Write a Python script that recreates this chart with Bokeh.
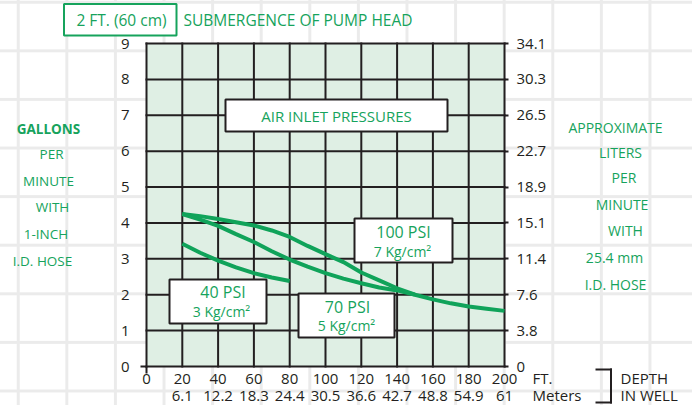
from bokeh.plotting import figure
from bokeh.models import FixedTicker, LinearAxis, Label, BoxAnnotation, Range1d
from bokeh.embed import file_html
from bokeh.resources import INLINE

# ---------------- data ----------------
depth_ticks_ft = [0, 20, 40, 60, 80, 100, 120, 140, 160, 180, 200]
depth_ticks_m = [20, 40, 60, 80, 100, 120, 140, 160, 180, 200]
depth_labels_m = ["6.1", "12.2", "18.3", "24.4", "30.5", "36.6", "42.7", "48.8", "54.9", "61"]
gpm_ticks = [0, 1, 2, 3, 4, 5, 6, 7, 8, 9]
lpm_labels = ["0", "3.8", "7.6", "11.4", "15.1", "18.9", "22.7", "26.5", "30.3", "34.1"]

depth_100 = [20, 30, 40, 50, 60, 70, 80, 90, 100, 110, 120, 130, 140, 150, 160, 170, 180, 190, 200]
gpm_100 = [4.25, 4.19, 4.11, 4.02, 3.93, 3.79, 3.61, 3.36, 3.13, 2.91, 2.62, 2.40, 2.18, 2.00,
           1.87, 1.76, 1.67, 1.61, 1.55]
depth_70 = [20, 30, 40, 50, 60, 70, 80, 90, 100, 110, 120, 130, 140, 150]
gpm_70 = [4.25, 4.09, 3.92, 3.69, 3.47, 3.21, 2.98, 2.78, 2.60, 2.45, 2.32, 2.20, 2.12, 2.00]
depth_40 = [20, 30, 40, 50, 60, 70, 80]
gpm_40 = [3.42, 3.17, 2.95, 2.76, 2.60, 2.48, 2.38]

# ---------------- style ----------------
FONT = "Open Sans"
DARK = "#231f20"
GREEN = "#10a35a"
TXT_GREEN = "#16a35c"
FILL = "#dfefe4"

W, H = 692, 405
# pixel box of the plotting area
L, T, R, B = 146, 43, 504, 366
X0, X1 = depth_ticks_ft[0], depth_ticks_ft[-1]
Y0, Y1 = gpm_ticks[0], gpm_ticks[-1]
SX = (R - L) / (X1 - X0)
SY = (B - T) / (Y1 - Y0)


def dx(px):
    return X0 + (px - L) / SX


def dy(py):
    return Y0 + (B - py) / SY


p = figure(width=W, height=H, min_border=0,
           x_range=Range1d(dx(0), dx(W)), y_range=Range1d(dy(H), dy(0)),
           x_axis_location=None, y_axis_location=None,
           output_backend="svg", toolbar_location=None)

p.styles = {
    "background-color": "white",
    "background-image": "linear-gradient(to right, #ebebeb 2.5px, transparent 2.5px), "
                        "linear-gradient(to bottom, #ebebeb 2.5px, transparent 2.5px)",
    "background-size": "48.6px 48.6px",
    "background-position": "16.75px 0.75px",
}
p.border_fill_alpha = 0
p.background_fill_alpha = 0
p.outline_line_color = None
p.xgrid.visible = False
p.ygrid.visible = False

# plotting area fill + grid
p.quad(left=[X0], right=[X1], bottom=[Y0], top=[Y1], fill_color=FILL, line_color=None)
p.segment(x0=depth_ticks_ft, x1=depth_ticks_ft,
          y0=[Y0] * len(depth_ticks_ft), y1=[Y1] * len(depth_ticks_ft),
          line_color=DARK, line_width=2, line_cap="square")
p.segment(x0=[X0] * len(gpm_ticks), x1=[X1] * len(gpm_ticks),
          y0=gpm_ticks, y1=gpm_ticks,
          line_color=DARK, line_width=2, line_cap="square")


def style_axis(ax, standoff):
    ax.axis_line_color = None
    ax.major_tick_line_color = None
    ax.minor_tick_line_color = None
    ax.major_label_standoff = standoff
    ax.major_label_text_font = FONT
    ax.major_label_text_font_size = "15px"
    ax.major_label_text_color = DARK


# bottom axes: feet and meters
ax_ft = LinearAxis(ticker=FixedTicker(ticks=depth_ticks_ft), fixed_location=Y0)
style_axis(ax_ft, 1)
p.add_layout(ax_ft, "below")

ax_m = LinearAxis(ticker=FixedTicker(ticks=depth_ticks_m), fixed_location=Y0,
                  major_label_overrides={t: s for t, s in zip(depth_ticks_m, depth_labels_m)})
style_axis(ax_m, 18)
p.add_layout(ax_m, "below")

# origin tick + short axis extension
ax_0 = LinearAxis(ticker=FixedTicker(ticks=[X0]), fixed_location=Y0, bounds=(dx(140), X0),
                  major_label_overrides={X0: ""})
ax_0.axis_line_color = DARK
ax_0.axis_line_width = 2
ax_0.major_tick_line_color = DARK
ax_0.major_tick_line_width = 2
ax_0.major_tick_out = 7
ax_0.major_tick_in = 0
ax_0.minor_tick_line_color = None
ax_0.major_label_text_font_size = "1px"
p.add_layout(ax_0, "below")

# left axis (gallons per minute)
ax_l = LinearAxis(ticker=FixedTicker(ticks=gpm_ticks), fixed_location=X0)
style_axis(ax_l, 11)
p.add_layout(ax_l, "left")

# right axis (liters per minute)
ax_r = LinearAxis(ticker=FixedTicker(ticks=gpm_ticks), fixed_location=X1,
                  major_label_overrides={g: s for g, s in zip(gpm_ticks, lpm_labels)})
style_axis(ax_r, 8)
ax_r.major_tick_line_color = DARK
ax_r.major_tick_line_width = 2
ax_r.major_tick_out = 4
ax_r.major_tick_in = 0
p.add_layout(ax_r, "right")

# curves
p.line(depth_100, gpm_100, line_color=GREEN, line_width=4)
p.line(depth_70, gpm_70, line_color=GREEN, line_width=4)
p.line(depth_40, gpm_40, line_color=GREEN, line_width=4)

# white boxes inside the plot (pixel positions -> data units)
boxes = [(225, 447, 99, 131), (354, 452, 218, 262), (169, 266, 279, 323), (298, 394, 293, 337)]
p.quad(left=[dx(b[0]) for b in boxes], right=[dx(b[1]) for b in boxes],
       top=[dy(b[2]) for b in boxes], bottom=[dy(b[3]) for b in boxes],
       fill_color="white", line_color=DARK, line_width=2)


def lab(text, px, py, size, color=TXT_GREEN, align="center", style="normal"):
    p.add_layout(Label(x=dx(px), y=dy(py), text=text, text_font=FONT,
                       text_font_size=f"{size}px", text_color=color,
                       text_align=align, text_baseline="middle", text_font_style=style))


# title box
p.add_layout(BoxAnnotation(left=dx(63.5), right=dx(176), top=dy(3.5), bottom=dy(35),
                           fill_color="white", fill_alpha=1, line_color=TXT_GREEN,
                           line_width=2, line_alpha=1))
lab("2 FT. (60 cm)", 121, 19.5, 15.5)
lab("SUBMERGENCE OF PUMP HEAD", 183, 19.5, 15.5, align="left")

lab("AIR INLET PRESSURES", 336, 115.5, 15)
lab("100 PSI", 403, 231, 16)
lab("7 Kg/cm²", 402, 250.5, 14)
lab("40 PSI", 222.5, 291.5, 16)
lab("3 Kg/cm²", 221, 311, 14)
lab("70 PSI", 347, 306, 16)
lab("5 Kg/cm²", 346, 325, 14)

# left side description
for t, x, y, st in [("GALLONS", 48, 128, "bold"), ("PER", 51, 153.5, "normal"),
                    ("MINUTE", 48, 180, "normal"), ("WITH", 52, 206.5, "normal"),
                    ("1-INCH", 45.5, 233, "normal"), ("I.D. HOSE", 42, 260, "normal")]:
    lab(t, x, y, 13.5, style=st)

# right side description
for t, x, y in [("APPROXIMATE", 615, 127), ("LITERS", 620, 152), ("PER", 623.5, 177),
                ("MINUTE", 621.5, 204), ("WITH", 625, 230), ("25.4 mm", 614, 257),
                ("I.D. HOSE", 615, 284)]:
    lab(t, x, y, 14)

# depth labels
lab("FT.", 532, 377, 15, color=DARK, align="left")
lab("Meters", 532, 394.5, 15, color=DARK, align="left")
lab("DEPTH", 620, 377, 15, color=DARK, align="left")
lab("IN WELL", 620, 394.5, 15, color=DARK, align="left")

# bracket
for (l, r, t, b) in [(595, 611.5, 368, 370), (609.5, 611.5, 368, 403), (595, 611.5, 401, 403)]:
    p.add_layout(BoxAnnotation(left=dx(l), right=dx(r), top=dy(t), bottom=dy(b),
                               fill_color=DARK, fill_alpha=1, line_color=None))

open("out.html", "w").write(file_html(p, INLINE))
